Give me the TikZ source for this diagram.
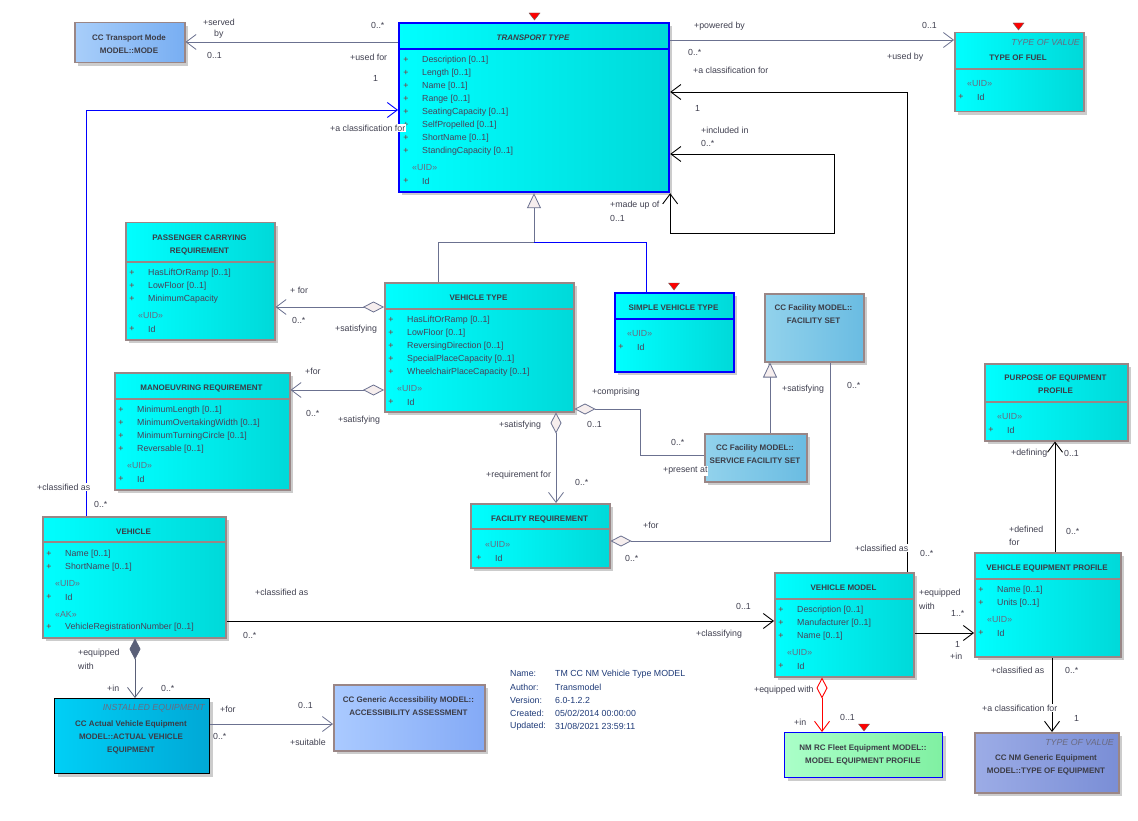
\documentclass[tikz,border=0pt]{standalone}
\usepackage{fontspec}
\setmainfont{Liberation Sans}
\usepackage{tikz}
\usetikzlibrary{arrows.meta,shadows}

\definecolor{cyanL}{HTML}{00FFFF}
\definecolor{cyanR}{HTML}{00D9D9}
\definecolor{clsframe}{HTML}{9A8686}
\definecolor{link}{HTML}{6B7190}
\definecolor{complink}{HTML}{5A6078}
\definecolor{lbltext}{HTML}{404050}
\definecolor{titletext}{HTML}{3C3C46}
\definecolor{attrtext}{HTML}{4A4058}
\definecolor{plustext}{HTML}{8A3030}
\definecolor{stereotext}{HTML}{6A6A80}
\definecolor{infotext}{HTML}{1E3A78}
\definecolor{modeL}{HTML}{A8CEFA}
\definecolor{modeR}{HTML}{78AEF2}
\definecolor{facL}{HTML}{92D2EC}
\definecolor{facR}{HTML}{6ABCE2}
\definecolor{mepL}{HTML}{AAFFC8}
\definecolor{mepR}{HTML}{80F0A2}
\definecolor{toeL}{HTML}{9CACE6}
\definecolor{toeR}{HTML}{7A8ED6}
\definecolor{aveL}{HTML}{00CFF6}
\definecolor{aveR}{HTML}{00A8D6}
\definecolor{accL}{HTML}{AACAFF}
\definecolor{accR}{HTML}{84AAF6}
\definecolor{genfill}{HTML}{F6EEEE}

\begin{document}
\begin{tikzpicture}[x=1pt,y=-1pt,>={Straight Barb[length=10pt,width=15pt]},
  every node/.style={inner sep=1pt,text=lbltext,font=\fontsize{8.8}{13}\selectfont},
  cls/.style={draw=clsframe,line width=1.5pt,left color=cyanL,right color=cyanR,anchor=north west,
    drop shadow={shadow xshift=3pt,shadow yshift=-3pt,fill=black!20,opacity=1}},
  sepline/.style={line width=1.5pt},
  title/.style={font=\fontsize{8}{13}\selectfont\bfseries,text=titletext,align=center},
  tov/.style={anchor=east,font=\fontsize{8.8}{13}\selectfont\itshape,text=stereotext},
  plus/.style={text=plustext},
  attr/.style={anchor=west,text=attrtext},
  stereo/.style={anchor=west,text=stereotext},
  lbl/.style={anchor=west},
  lblw/.style={anchor=west,fill=white},
  info/.style={anchor=west,text=infotext},
  assoc/.style={draw=link,line width=0.8pt},
  black link/.style={draw=black,line width=0.9pt},
  blue link/.style={draw=blue,line width=0.9pt},
  red link/.style={draw=red,line width=0.9pt},
  agg/.style={{Diamond[length=21pt,width=11pt,fill=genfill]}->},
  dia/.style={{Diamond[length=21pt,width=11pt,fill=genfill]}-},
  comp/.style={draw=complink,line width=0.8pt,{Diamond[length=21pt,width=11pt]}->},
  gen/.style={-{Triangle[length=15pt,width=14pt,fill=genfill]}},
  marker/.style={fill=red,draw=black!60,line width=0.4pt}]

  \fill[white] (0,0) rectangle (1138,821);
  \useasboundingbox (0,0) rectangle (1138,821);

  \node[cls,minimum width=110pt,minimum height=40pt,left color=modeL,right color=modeR] (mode) at (74,22) {};
  \node[cls,draw=blue,line width=2.2pt,minimum width=270pt,minimum height=169pt] (ttype) at (398,22) {};
  \node[cls,minimum width=129pt,minimum height=79pt] (fuel) at (954,32) {};
  \node[cls,minimum width=149pt,minimum height=117pt] (pcr) at (125,222) {};
  \node[cls,minimum width=175pt,minimum height=117pt] (mr) at (114,372) {};
  \node[cls,minimum width=189pt,minimum height=129pt] (vtype) at (384,282) {};
  \node[cls,draw=blue,line width=2.2pt,minimum width=119pt,minimum height=79pt] (svt) at (614,292) {};
  \node[cls,minimum width=99pt,minimum height=68pt,left color=facL,right color=facR] (fset) at (764,293) {};
  \node[cls,minimum width=102pt,minimum height=48pt,left color=facL,right color=facR] (sfset) at (704,433) {};
  \node[cls,minimum width=139pt,minimum height=64pt] (freq) at (470,503) {};
  \node[cls,minimum width=143pt,minimum height=77pt] (pep) at (984,363) {};
  \node[cls,minimum width=146pt,minimum height=104pt] (vep) at (974,552) {};
  \node[cls,minimum width=139pt,minimum height=104pt] (vmodel) at (774,572) {};
  \node[cls,draw=blue,line width=1pt,minimum width=158pt,minimum height=45pt,left color=mepL,right color=mepR] (mep) at (784,732) {};
  \node[cls,minimum width=144pt,minimum height=60pt,left color=toeL,right color=toeR] (toe) at (974,732) {};
  \node[cls,minimum width=183pt,minimum height=121pt] (veh) at (42,516) {};
  \node[cls,draw=black,line width=1.4pt,minimum width=155pt,minimum height=75pt,left color=aveL,right color=aveR] (ave) at (54,698) {};
  \node[cls,minimum width=151pt,minimum height=66pt,left color=accL,right color=accR] (acc) at (333,684) {};

  \foreach \n/\y/\c in {ttype/49/blue,fuel/69/clsframe,pcr/262/clsframe,mr/399/clsframe,vtype/309/clsframe,
    svt/319/blue,freq/529/clsframe,pep/402/clsframe,vep/579/clsframe,vmodel/599/clsframe,veh/542/clsframe}
    \draw[sepline,draw=\c] (\n.west |- 0,\y) -- (\n.east |- 0,\y);

  \node[title] (mode_t) at (129,44.5) {CC Transport Mode\\MODEL::MODE};
  \node[title,font=\fontsize{8}{13}\selectfont\bfseries\itshape] (ttype_t) at (533,38) {TRANSPORT TYPE};
  \node[tov] (fuel_s) at (1081,42) {TYPE OF VALUE};
  \node[title] (fuel_t) at (1018,58) {TYPE OF FUEL};
  \node[title] (pcr_t) at (199.5,244.5) {PASSENGER CARRYING\\REQUIREMENT};
  \node[title] (mr_t) at (201.5,388) {MANOEUVRING REQUIREMENT};
  \node[title] (vtype_t) at (478.5,298) {VEHICLE TYPE};
  \node[title] (svt_t) at (673.5,308) {SIMPLE VEHICLE TYPE};
  \node[title] (fset_t) at (813.5,314.5) {CC Facility MODEL::\\FACILITY SET};
  \node[title] (sfset_t) at (755,454.5) {CC Facility MODEL::\\SERVICE FACILITY SET};
  \node[title] (freq_t) at (539.5,519) {FACILITY REQUIREMENT};
  \node[title] (pep_t) at (1055.5,384.5) {PURPOSE OF EQUIPMENT\\PROFILE};
  \node[title] (vep_t) at (1047,568) {VEHICLE EQUIPMENT PROFILE};
  \node[title] (vmodel_t) at (843.5,588) {VEHICLE MODEL};
  \node[title] (mep_t) at (863,754.5) {NM RC Fleet Equipment MODEL::\\MODEL EQUIPMENT PROFILE};
  \node[tov] (toe_s) at (1115,742) {TYPE OF VALUE};
  \node[title] (toe_t) at (1046,764.5) {CC NM Generic Equipment\\MODEL::TYPE OF EQUIPMENT};
  \node[title] (veh_t) at (133.5,532) {VEHICLE};
  \node[tov] (ave_s) at (206,708) {INSTALLED EQUIPMENT};
  \node[title] (ave_t) at (131,737) {CC Actual Vehicle Equipment\\MODEL::ACTUAL VEHICLE\\EQUIPMENT};
  \node[title] (acc_t) at (408.5,706.5) {CC Generic Accessibility MODEL::\\ACCESSIBILITY ASSESSMENT};

  \foreach \px/\y/\t [count=\i] in {406/60/Description [0..1],406/73/Length [0..1],406/86/Name [0..1],
    406/99/Range [0..1],406/112/SeatingCapacity [0..1],406/125/SelfPropelled [0..1],406/138/ShortName [0..1],
    406/151/StandingCapacity [0..1],406/181/Id,961/97/Id,
    132/273/HasLiftOrRamp [0..1],132/286/LowFloor [0..1],132/299/MinimumCapacity,132/329/Id,
    121/410/MinimumLength [0..1],121/423/MinimumOvertakingWidth [0..1],121/436/MinimumTurningCircle [0..1],
    121/449/Reversable [0..1],121/479/Id,
    391/320/HasLiftOrRamp [0..1],391/333/LowFloor [0..1],391/346/ReversingDirection [0..1],
    391/359/SpecialPlaceCapacity [0..1],391/372/WheelchairPlaceCapacity [0..1],391/402/Id,
    621/347/Id,479/558/Id,991/430/Id,
    981/590/Name [0..1],981/603/Units [0..1],981/633/Id,
    781/610/Description [0..1],781/623/Manufacturer [0..1],781/636/Name [0..1],781/666/Id,
    49/554/Name [0..1],49/567/ShortName [0..1],49/597/Id,49/627/VehicleRegistrationNumber [0..1]}
  {
    \node[plus] (p_\i) at (\px,\y) {+};
    \node[attr] (a_\i) at (\px+15,\y) {\t};
  }
  \foreach \px/\y/\t [count=\i] in {406/168/«UID»,961/84/«UID»,132/316/«UID»,121/466/«UID»,391/389/«UID»,
    621/334/«UID»,479/545/«UID»,991/417/«UID»,981/620/«UID»,781/653/«UID»,49/584/«UID»,49/614/«AK»}
    \node[stereo] (s_\i) at (\px+5,\y) {\t};

  \foreach \k/\v [count=\i] in {Name:/TM CC NM Vehicle Type MODEL,Author:/Transmodel,Version:/6.0-1.2.2,
    Created:/{05/02/2014 00:00:00},Updated:/{31/08/2021 23:59:11}}
  {
    \node[info] (ik_\i) at (509,661+13*\i) {\k};
    \node[info] (iv_\i) at (554,661+13*\i) {\v};
  }

  \draw[assoc,->] (ttype.west |- 0,42) -- (mode.east |- 0,42);
  \draw[assoc,->] (ttype.east |- 0,40) -- (fuel.west |- 0,40);
  \draw[blue link,->] (veh.north -| 86,0) |- (ttype.west |- 0,110);
  \draw[black link,->] (vmodel.north -| 907,0) |- (ttype.east |- 0,92);
  \draw[black link,<->] (ttype.south east) |- (834,233) |- (ttype.east |- 0,154);
  \draw[assoc,gen] (vtype.north -| 438,0) |- (534,242) -- (ttype.south -| 534,0);
  \draw[blue link] (svt.north -| 646,0) |- (534,242);
  \draw[assoc,agg] (vtype.west |- 0,307) -- (pcr.east |- 0,307);
  \draw[assoc,agg] (vtype.west |- 0,390) -- (mr.east |- 0,390);
  \draw[assoc,agg] (vtype.south -| 556,0) -- (freq.north -| 556,0);
  \draw[assoc,dia] (vtype.east |- 0,409) -| (640,455) -- (sfset.west |- 0,455);
  \draw[assoc,gen] (sfset.north -| 770,0) -- (fset.south -| 770,0);
  \draw[assoc,dia] (freq.east |- 0,541) -| (fset.south -| 830,0);
  \draw[black link,->] (veh.east |- 0,621) -- (vmodel.west |- 0,621);
  \draw[black link,->] (vmodel.east |- 0,633) -- (vep.west |- 0,633);
  \draw[black link,->] (vep.north -| 1055,0) -- (pep.south -| 1055,0);
  \draw[black link,->] (vep.south -| 1052,0) -- (toe.north -| 1052,0);
  \draw[red link,{Diamond[length=21pt,width=11pt,fill=white]}->] (vmodel.south -| 822,0) -- (mep.north -| 822,0);
  \draw[comp] (veh.south -| 135,0) -- (ave.north -| 135,0);
  \draw[assoc,->] (ave.east |- 0,724) -- (acc.west |- 0,724);

  \foreach \x/\y in {534.5/13,1018.5/23,674/283,864/724}
    \filldraw[marker] (\x-5.5,\y) -- (\x+5.5,\y) -- (\x,\y+7) -- cycle;

  \foreach \x/\y/\t [count=\i] in {202/22/+served,213/34/by,206/55/0..1,370/25/0..*,349/57/+used for,372/78/1,
    693/26/+powered by,687/52/0..*,921/25/0..1,886/57/+used by,93/504/0..*,
    692/70/+a classification for,694/108/1,919/553/0..*,
    700/130/+included in,700/143/0..*,609/205/+made up of,609/218/0..1,
    289/290/+ for,291/320/0..*,334/329/+satisfying,304/371/+for,305/413/0..*,337/420/+satisfying,
    498/425/+satisfying,485/475/+requirement for,574/482/0..*,
    591/392/+comprising,586/424/0..1,670/442/0..*,781/389/+satisfying,
    846/385/0..*,642/525/+for,624/558/0..*,
    254/592/+classified as,242/635/0..*,735/606/0..1,695/634/+classifying,
    918/593/+equipped,918/606/with,950/613/1..*,954/644/1,949/656/+in,
    1010/453/+defining,1063/453/0..1,1008/529/+defined,1008/542/for,1065/531/0..*,
    990/670/+classified as,1064/670/0..*,1073/718/1,
    753/690/+equipped with,793/722/+in,839/717/0..1,
    77/653/+equipped,77/666/with,106/688/+in,160/688/0..*,
    219/709/+for,212/736/0..*,297/705/0..1,289/742/+suitable}
    \node[lbl] (l_\i) at (\x,\y) {\t};
  \foreach \x/\y/\t [count=\i] in {329/128/+a classification for,36/487/+classified as,854/548/+classified as,
    662/471/+present at,981/708/+a classification for}
    \node[lblw] (w_\i) at (\x,\y) {\t};
\end{tikzpicture}
\end{document}
